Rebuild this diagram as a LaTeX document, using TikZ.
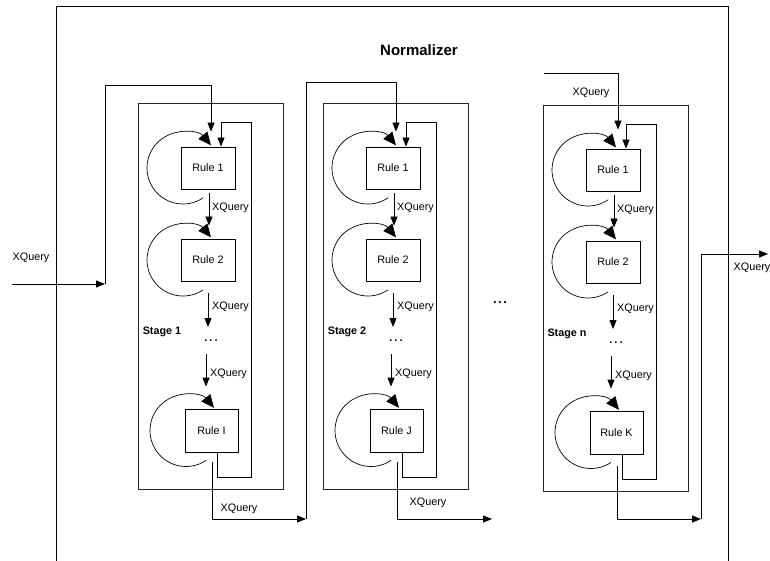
\documentclass[tikz,border=0pt]{standalone}
\usepackage{fontspec}
\setmainfont{Liberation Sans}
\usetikzlibrary{arrows.meta,calc}
\tikzset{
 conn/.style={line width=0.8pt,-{Triangle[length=9pt,width=7pt]}},
 plain/.style={line width=0.9pt},
 loopar/.style={line width=0.7pt,-{Triangle[length=13pt,width=11.5pt]}},
 rulebox/.style={draw,line width=0.8pt,minimum width=54pt,minimum height=42pt,inner sep=0pt,font=\fontsize{10.8}{12}\selectfont},
 stagebox/.style={draw=black!85,line width=1pt},
 lbl/.style={font=\fontsize{10.8}{12}\selectfont,inner sep=0pt},
 stagelbl/.style={font=\bfseries\fontsize{10.8}{12}\selectfont,inner sep=0pt},
}
\newcommand\mystage[5]{%
\begin{scope}[shift={(#2,#3)}]
\draw[stagebox] (138,104) rectangle (283,489);
\node[rulebox] (#1a) at (208,168) {Rule 1};
\node[rulebox] (#1b) at (208,260) {Rule 2};
\node[rulebox,minimum width=53pt,minimum height=43pt] (#1c) at (211.5,430.5) {Rule #5};
\node[lbl,font=\bfseries\fontsize{11}{12}\selectfont] (#1d) at (211,341) {.\hspace{2pt}.\hspace{2pt}.};
\node[stagelbl] (#1s) at (162,332) {Stage #4};
\draw[loopar] ($(#1a.center)+(-25,0)$) ++(56:36) arc[start angle=56,end angle=321,radius=36];
\draw[loopar] ($(#1b.center)+(-25,0)$) ++(56:36) arc[start angle=56,end angle=321,radius=36];
\draw[loopar] ($(#1c.center)+(-25.5,0)$) ++(56:36) arc[start angle=56,end angle=321,radius=36];
\draw[conn] ($(#1a.south)+(1,4)$) -- ($(#1b.north)+(1,-13)$);
\node[lbl,anchor=west] (#1l1) at (212,208) {XQuery};
\draw[conn] ($(#1b.south)+(0,12)$) -- ($(#1d.center)+(-3,-14)$);
\node[lbl,anchor=west] (#1l2) at (212,307) {XQuery};
\draw[conn] ($(#1d.center)+(-5,13)$) -- ($(#1c.north)+(-5.5,-22)$);
\node[lbl,anchor=west] (#1l3) at (210,374) {XQuery};
\draw[conn] ($(#1c.south)+(5.5,0)$) |- (251,477) -- (251,122) -| ($(#1a.north)+(13,0)$);
\end{scope}}
\begin{document}
\begin{tikzpicture}[x=1pt,y=-1pt]
\useasboundingbox (0,0) rectangle (770,561);
\draw[plain] (56,561) -- (56,6) -- (728,6) -- (728,561);
\node[font=\bfseries\fontsize{15}{18}\selectfont,inner sep=0pt] (title) at (419,50) {Normalizer};
\mystage{s1}{0}{0}{1}{I}
\mystage{s2}{185}{0}{2}{J}
\mystage{s3}{405}{2}{n}{K}
\node[font=\bfseries\fontsize{13}{14}\selectfont,inner sep=0pt] (between) at (500,303) {.\hspace{1.5pt}.\hspace{1.5pt}.};
% input
\coordinate (inL) at (12,284);
\coordinate (j0) at (105,284);
\node[lbl] (xin) at (31,258) {XQuery};
\draw[conn] (inL) -- (j0);
\draw[conn] (j0) |- ($(s1a.north)+(3,-61)$) -- ($(s1a.north)+(3,-15)$);
% stage 1 -> stage 2
\coordinate (j1) at (306,519);
\draw[conn] ($(s1c.south)+(0.5,10)$) |- (j1);
\node[lbl] (x1) at (239,509) {XQuery};
\draw[conn] (j1) |- ($(s2a.north)+(3,-64)$) -- ($(s2a.north)+(3,-15)$);
% stage 2 out
\coordinate (j2) at (492,519);
\draw[conn] ($(s2c.south)+(0.5,10)$) |- (j2);
\node[lbl] (x2) at (428,503) {XQuery};
% stage n in
\coordinate (j3) at (544,73);
\draw[conn] (j3) -| ($(s3a.north)+(5,-19)$);
\node[lbl] (x3) at (591,93) {XQuery};
% stage n out
\coordinate (j4) at (701,519);
\coordinate (outR) at (768,254);
\draw[conn] ($(s3c.south)+(0.5,12)$) |- (j4);
\draw[conn] (j4) |- (outR);
\node[lbl] (x4) at (752,268) {XQuery};
\end{tikzpicture}
\end{document}
